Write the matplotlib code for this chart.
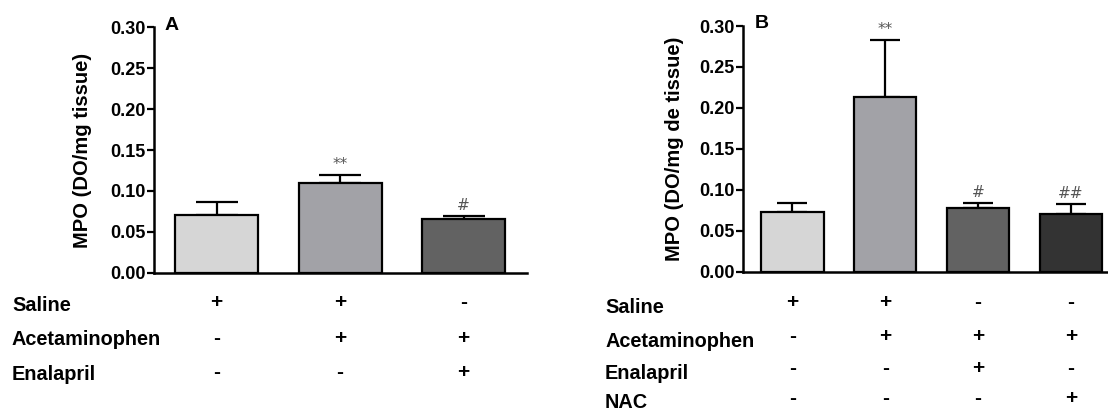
import numpy as np
import matplotlib
matplotlib.use('Agg')
import matplotlib.pyplot as plt
import matplotlib.transforms as mtransforms

plt.rcParams['font.family'] = ['Liberation Sans', 'DejaVu Sans']
plt.rcParams['font.weight'] = 'bold'

# Panel A data
mean_a = [0.0706, 0.1093, 0.0653]
sem_a = [0.0155, 0.0102, 0.0041]
marks_a = ['', '**', '#']
colors_a = ['#d6d6d6', '#a2a2a7', '#626262']
rows_a = ['Saline', 'Acetaminophen', 'Enalapril']
table_a = [['+', '+', '-'],
           ['-', '+', '+'],
           ['-', '-', '+']]

# Panel B data
mean_b = [0.0732, 0.2134, 0.0773, 0.0704]
sem_b = [0.0102, 0.0692, 0.0068, 0.0122]
marks_b = ['', '**', '#', '##']
colors_b = ['#d6d6d6', '#a2a2a7', '#626262', '#333333']
rows_b = ['Saline', 'Acetaminophen', 'Enalapril', 'NAC']
table_b = [['+', '+', '-', '-'],
           ['-', '+', '+', '+'],
           ['-', '-', '+', '-'],
           ['-', '-', '-', '+']]

W, H = 1108, 412
fig = plt.figure(figsize=(W / 100, H / 100), dpi=100)


def px(x, y):
    # pixel coords (top-left origin) to figure fraction
    return x / W, 1 - y / H


def draw_panel(rect, means, sems, marks, colors, ylabel, xlim, letter, letter_pos, cap):
    ax = fig.add_axes(rect)
    x = np.arange(len(means))
    ax.bar(x, means, width=0.67, color=colors, edgecolor='black', linewidth=1.6, zorder=2)
    ax.errorbar(x, means, yerr=[np.zeros(len(sems)), sems], fmt='none', ecolor='black',
                elinewidth=1.6, capsize=cap, capthick=1.6, zorder=1)
    for xi, m, s, t in zip(x, means, sems, marks):
        if t:
            ax.annotate(t, (xi, m + s), xytext=(0, 2), textcoords='offset points',
                        ha='center', va='bottom', fontsize=11, fontweight='normal',
                        color='#555555', family='DejaVu Sans')
    ax.set_xlim(*xlim)
    ax.set_ylim(0, 0.30)
    ax.set_yticks(np.arange(0, 0.301, 0.05))
    ax.set_yticklabels(['%.2f' % v for v in np.arange(0, 0.301, 0.05)])
    ax.set_xticks([])
    for s in ['top', 'right']:
        ax.spines[s].set_visible(False)
    ax.spines['left'].set_linewidth(1.8)
    ax.spines['bottom'].set_linewidth(1.8)
    ax.tick_params(axis='y', direction='out', length=5, width=1.6, labelsize=13, pad=1)
    for lab in ax.get_yticklabels():
        lab.set_fontweight('bold')
    ax.set_ylabel(ylabel, fontsize=14.5, fontweight='bold')
    ax.set_facecolor('none')
    fx, fy = px(*letter_pos)
    fig.text(fx, fy, letter, fontsize=14, fontweight='bold', ha='left', va='center')
    return ax


def draw_table(ax, rows, table, label_x, base_y, sym_y):
    trans = mtransforms.blended_transform_factory(ax.transData, fig.transFigure)
    for name, vals, by, sy in zip(rows, table, base_y, sym_y):
        fx, fy = px(label_x, by)
        fig.text(fx, fy, name, fontsize=14.3, fontweight='bold', ha='left', va='baseline')
        for i, v in enumerate(vals):
            ax.text(i, 1 - sy / H, v, transform=trans, ha='center', va='center',
                    fontsize=15, fontweight='bold', clip_on=False)


ax_a = draw_panel([154 / W, 1 - 272.7 / H, (526.7 - 154) / W, (272.7 - 27.5) / H],
                  mean_a, sem_a, marks_a, colors_a, 'MPO (DO/mg tissue)',
                  (-0.506, 2.51), 'A', (165, 26), 15)
ax_a.yaxis.set_label_coords(-0.166, 0.5)
draw_table(ax_a, rows_a, table_a, 12, [311, 345, 380], [303, 338, 372])

ax_b = draw_panel([743.3 / W, 1 - 271.7 / H, (W - 743.3) / W, (271.7 - 26) / H],
                  mean_b, sem_b, marks_b, colors_b, 'MPO (DO/mg de tissue)',
                  (-0.53, 3.40), 'B', (755, 24), 11)
ax_b.yaxis.set_label_coords(-0.163, 0.5)
draw_table(ax_b, rows_b, table_b, 605, [313, 347, 379, 408], [303, 336, 368, 399])

fig.savefig('out.png', dpi=100)
